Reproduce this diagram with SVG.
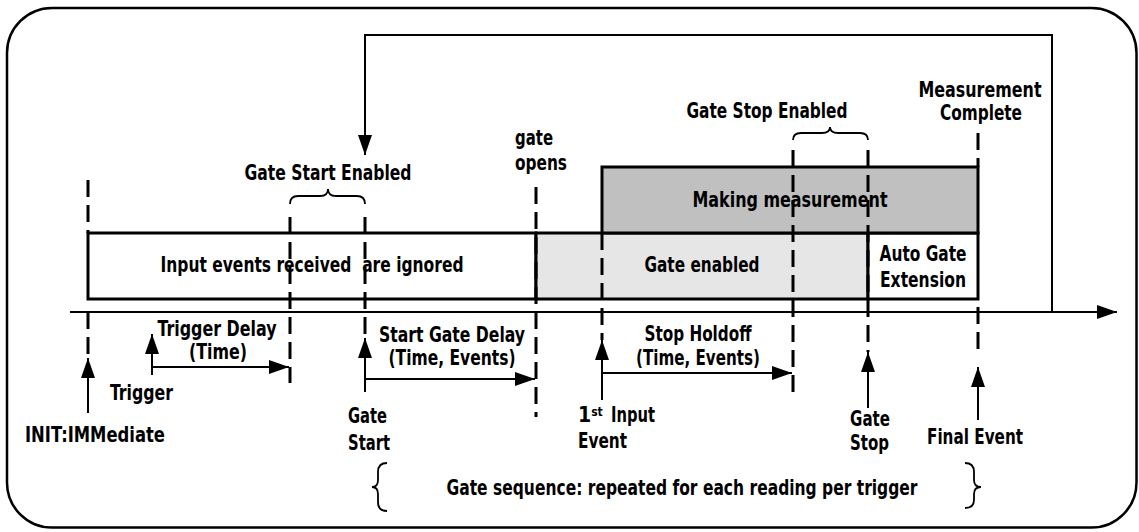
<svg xmlns="http://www.w3.org/2000/svg" width="1139" height="532" viewBox="0 0 1139 532">
<style>
text{font-family:"Liberation Sans Narrow","Arial Narrow","DejaVu Sans Condensed",sans-serif;font-weight:bold;font-size:21px;fill:#000}
.c{text-anchor:middle}
.box{stroke:#000;stroke-width:3}
.dash{stroke:#000;stroke-width:3;stroke-dasharray:17 8;fill:none}
.ln{stroke:#000;stroke-width:2;fill:none}
.br{stroke:#000;stroke-width:1.8;fill:none}
</style>
<defs>
<marker id="ah" markerUnits="userSpaceOnUse" markerWidth="22" markerHeight="16" refX="20" refY="7" orient="auto">
<path d="M0,0 L20,7 L0,14 Z" fill="#000"/>
</marker>
</defs>
<rect x="7" y="8" width="1129.5" height="519.5" rx="45" ry="45" fill="#fff" stroke="#000" stroke-width="2.5"/>

<g id="boxes">
<g id="ignored"><rect class="box" x="88" y="233" width="448" height="66" fill="#fff"/>
<text class="c" x="312" y="272" xml:space="preserve" textLength="303" lengthAdjust="spacingAndGlyphs">Input events received  are ignored</text></g>
<g id="gateEnabled"><rect class="box" x="536" y="233" width="332" height="66" fill="#e6e6e6"/>
<text class="c" x="702" y="272" textLength="115" lengthAdjust="spacingAndGlyphs">Gate enabled</text></g>
<g id="autoGate"><rect class="box" x="868" y="233" width="110" height="66" fill="#fff"/>
<text class="c" x="923" y="261" textLength="87" lengthAdjust="spacingAndGlyphs">Auto Gate</text><text class="c" x="923" y="287" textLength="86" lengthAdjust="spacingAndGlyphs">Extension</text></g>
<g id="making"><rect class="box" x="602" y="167" width="376" height="66" fill="#c0c0c0"/>
<text class="c" x="790" y="207" textLength="195" lengthAdjust="spacingAndGlyphs">Making measurement</text></g>
</g>

<g id="connectors">
<path class="ln" d="M1052,312 V35 H365 V155" marker-end="url(#ah)"/>
<path class="ln" d="M70,312 H1117" marker-end="url(#ah)"/>
<path class="dash" d="M88,180 V233 M88,312 V357"/>
<path class="dash" d="M290,217 V383"/>
<path class="dash" d="M365,217 V338"/>
<path class="dash" d="M536,187 V417"/>
<path class="dash" d="M602,233 V340"/>
<path class="dash" d="M793,150 V395"/>
<path class="dash" d="M868,150 V352"/>
<path class="dash" d="M978,133 V167 M978,307 V352"/>
<path class="ln" d="M88,413 V358" marker-end="url(#ah)"/>
<path class="ln" d="M152,375 V334" marker-end="url(#ah)"/>
<path class="ln" d="M152,367 H289" marker-end="url(#ah)"/>
<path class="ln" d="M365,392 V338" marker-end="url(#ah)"/>
<path class="ln" d="M365,379 H535" marker-end="url(#ah)"/>
<path class="ln" d="M602,400 V340" marker-end="url(#ah)"/>
<path class="ln" d="M602,373 H792" marker-end="url(#ah)"/>
<path class="ln" d="M868,408 V352" marker-end="url(#ah)"/>
<path class="ln" d="M978,420 V367" marker-end="url(#ah)"/>
<path class="br" d="M290,204 Q290,196 298,196 H320 Q328,196 328,189 Q328,196 336,196 H357 Q365,196 365,204"/>
<path class="br" d="M793,140 Q793,133 801,133 H822 Q830,133 830,127 Q830,133 838,133 H860 Q868,133 868,140"/>
<path class="br" d="M387,463 Q378,463 378,472 V480 Q378,487 372,487 Q378,487 378,494 V502 Q378,511 387,511"/>
<path class="br" d="M965,463 Q974,463 974,472 V480 Q974,487 981,487 Q974,487 974,494 V500 Q974,508 965,508"/>
</g>

<g id="labels">
<text class="c" x="328" y="180" textLength="167" lengthAdjust="spacingAndGlyphs">Gate Start Enabled</text>
<text x="515" y="145" textLength="38" lengthAdjust="spacingAndGlyphs">gate</text>
<text x="515" y="170" textLength="52" lengthAdjust="spacingAndGlyphs">opens</text>
<text class="c" x="767" y="118" textLength="161" lengthAdjust="spacingAndGlyphs">Gate Stop Enabled</text>
<text class="c" x="980" y="97" textLength="123" lengthAdjust="spacingAndGlyphs">Measurement</text>
<text class="c" x="981" y="120" textLength="82" lengthAdjust="spacingAndGlyphs">Complete</text>
<text class="c" x="217" y="336" textLength="119" lengthAdjust="spacingAndGlyphs">Trigger Delay</text>
<text class="c" x="218" y="359" textLength="58" lengthAdjust="spacingAndGlyphs">(Time)</text>
<text x="110" y="400" textLength="63" lengthAdjust="spacingAndGlyphs">Trigger</text>
<text x="25" y="442" textLength="140" lengthAdjust="spacingAndGlyphs">INIT:IMMediate</text>
<text x="348" y="423" textLength="39" lengthAdjust="spacingAndGlyphs">Gate</text>
<text x="348" y="450" textLength="42" lengthAdjust="spacingAndGlyphs">Start</text>
<text class="c" x="452" y="342" textLength="146" lengthAdjust="spacingAndGlyphs">Start Gate Delay</text>
<text class="c" x="452" y="365" textLength="127" lengthAdjust="spacingAndGlyphs">(Time, Events)</text>
<text class="c" x="698" y="341" textLength="107" lengthAdjust="spacingAndGlyphs">Stop Holdoff</text>
<text class="c" x="698" y="365" textLength="124" lengthAdjust="spacingAndGlyphs">(Time, Events)</text>
<text x="578" y="422">1<tspan font-size="12" dy="-6">st</tspan></text>
<text x="611" y="422" textLength="44" lengthAdjust="spacingAndGlyphs">Input</text>
<text x="578" y="448" textLength="49" lengthAdjust="spacingAndGlyphs">Event</text>
<text x="850" y="426" textLength="40" lengthAdjust="spacingAndGlyphs">Gate</text>
<text x="850" y="450" textLength="39" lengthAdjust="spacingAndGlyphs">Stop</text>
<text x="927" y="444" textLength="96" lengthAdjust="spacingAndGlyphs">Final Event</text>
<text class="c" x="682" y="495" textLength="471" lengthAdjust="spacingAndGlyphs">Gate sequence: repeated for each reading per trigger</text>
</g>
</svg>
